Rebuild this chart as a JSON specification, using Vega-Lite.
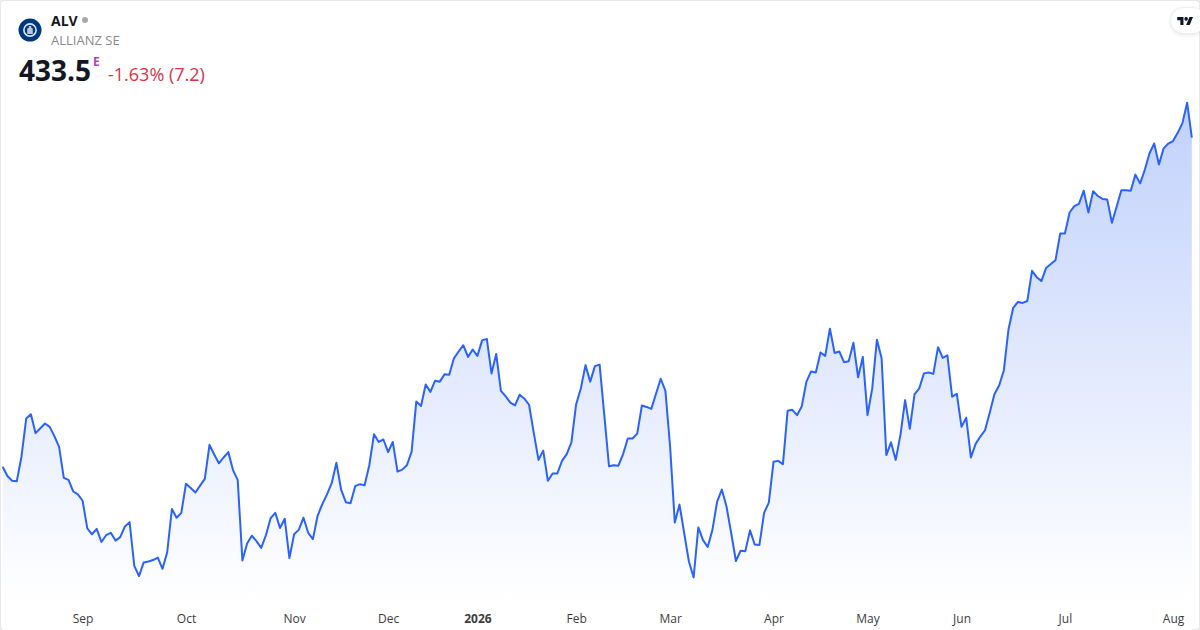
{
  "$schema": "https://vega.github.io/schema/vega-lite/v6.json",
  "width": 1200,
  "height": 630,
  "padding": 0,
  "autosize": "none",
  "background": "#ffffff",
  "view": {"stroke": "#e8e8e8", "strokeWidth": 2, "cornerRadius": 4},
  "config": {"text": {"font": "Open Sans"}, "axis": {"labelFont": "Open Sans"}},
  "datasets": {
    "closes": [
      {"session":0,"close":365.8},{"session":1,"close":363.9},{"session":2,"close":362.9},{"session":3,"close":362.8},{"session":4,"close":367.9},{"session":5,"close":375.7},{"session":6,"close":376.6},{"session":7,"close":372.7},{"session":8,"close":373.7},{"session":9,"close":374.7},
      {"session":10,"close":374.0},{"session":11,"close":372.1},{"session":12,"close":369.9},{"session":13,"close":363.5},{"session":14,"close":363.1},{"session":15,"close":360.7},{"session":16,"close":360.1},{"session":17,"close":358.8},{"session":18,"close":353.1},{"session":19,"close":351.9},
      {"session":20,"close":353.0},{"session":21,"close":350.3},{"session":22,"close":351.7},{"session":23,"close":352.2},{"session":24,"close":350.6},{"session":25,"close":351.3},{"session":26,"close":353.5},{"session":27,"close":354.4},{"session":28,"close":345.4},{"session":29,"close":343.3},
      {"session":30,"close":346.1},{"session":31,"close":346.3},{"session":32,"close":346.6},{"session":33,"close":347.1},{"session":34,"close":344.8},{"session":35,"close":348.2},{"session":36,"close":357.1},{"session":37,"close":355.3},{"session":38,"close":356.3},{"session":39,"close":362.3},
      {"session":40,"close":361.4},{"session":41,"close":360.5},{"session":42,"close":361.9},{"session":43,"close":363.3},{"session":44,"close":370.3},{"session":45,"close":368.3},{"session":46,"close":366.5},{"session":47,"close":367.7},{"session":48,"close":368.8},{"session":49,"close":365.1},
      {"session":50,"close":363.1},{"session":51,"close":346.5},{"session":52,"close":350.0},{"session":53,"close":351.6},{"session":54,"close":350.5},{"session":55,"close":349.1},{"session":56,"close":351.7},{"session":57,"close":355.2},{"session":58,"close":356.3},{"session":59,"close":353.2},
      {"session":60,"close":355.1},{"session":61,"close":347.0},{"session":62,"close":351.9},{"session":63,"close":352.8},{"session":64,"close":355.3},{"session":65,"close":352.2},{"session":66,"close":350.9},{"session":67,"close":355.7},{"session":68,"close":358.1},{"session":69,"close":360.1},
      {"session":70,"close":362.4},{"session":71,"close":366.6},{"session":72,"close":361.1},{"session":73,"close":358.5},{"session":74,"close":358.3},{"session":75,"close":361.8},{"session":76,"close":362.2},{"session":77,"close":362.0},{"session":78,"close":366.1},{"session":79,"close":372.5},
      {"session":80,"close":370.9},{"session":81,"close":371.4},{"session":82,"close":368.8},{"session":83,"close":370.9},{"session":84,"close":364.8},{"session":85,"close":365.2},{"session":86,"close":366.1},{"session":87,"close":368.9},{"session":88,"close":379.2},{"session":89,"close":378.3},
      {"session":90,"close":382.7},{"session":91,"close":381.2},{"session":92,"close":383.5},{"session":93,"close":383.3},{"session":94,"close":384.8},{"session":95,"close":384.7},{"session":96,"close":388.1},{"session":97,"close":389.5},{"session":98,"close":390.8},{"session":99,"close":388.4},
      {"session":100,"close":389.9},{"session":101,"close":388.6},{"session":102,"close":391.8},{"session":103,"close":392.1},{"session":104,"close":385.0},{"session":105,"close":389.0},{"session":106,"close":381.4},{"session":107,"close":380.3},{"session":108,"close":379.0},{"session":109,"close":378.4},
      {"session":110,"close":380.6},{"session":111,"close":379.8},{"session":112,"close":378.5},{"session":113,"close":372.7},{"session":114,"close":367.2},{"session":115,"close":369.1},{"session":116,"close":362.9},{"session":117,"close":364.4},{"session":118,"close":364.4},{"session":119,"close":367.0},
      {"session":120,"close":368.4},{"session":121,"close":370.8},{"session":122,"close":378.6},{"session":123,"close":381.9},{"session":124,"close":386.7},{"session":125,"close":383.3},{"session":126,"close":386.5},{"session":127,"close":386.8},{"session":128,"close":376.4},{"session":129,"close":365.9},
      {"session":130,"close":366.1},{"session":131,"close":366.0},{"session":132,"close":368.4},{"session":133,"close":371.6},{"session":134,"close":371.6},{"session":135,"close":372.6},{"session":136,"close":378.4},{"session":137,"close":378.1},{"session":138,"close":377.7},{"session":139,"close":380.8},
      {"session":140,"close":383.9},{"session":141,"close":381.4},{"session":142,"close":369.9},{"session":143,"close":354.3},{"session":144,"close":358.0},{"session":145,"close":352.1},{"session":146,"close":346.3},{"session":147,"close":343.0},{"session":148,"close":353.3},{"session":149,"close":350.7},
      {"session":150,"close":349.3},{"session":151,"close":352.8},{"session":152,"close":358.6},{"session":153,"close":361.1},{"session":154,"close":357.6},{"session":155,"close":352.1},{"session":156,"close":346.4},{"session":157,"close":348.5},{"session":158,"close":348.4},{"session":159,"close":352.7},
      {"session":160,"close":349.8},{"session":161,"close":349.7},{"session":162,"close":356.3},{"session":163,"close":358.4},{"session":164,"close":366.8},{"session":165,"close":367.0},{"session":166,"close":366.3},{"session":167,"close":377.3},{"session":168,"close":377.5},{"session":169,"close":376.4},
      {"session":170,"close":378.2},{"session":171,"close":383.3},{"session":172,"close":385.4},{"session":173,"close":385.2},{"session":174,"close":389.3},{"session":175,"close":388.6},{"session":176,"close":394.2},{"session":177,"close":389.2},{"session":178,"close":389.5},{"session":179,"close":387.3},
      {"session":180,"close":387.5},{"session":181,"close":391.3},{"session":182,"close":384.2},{"session":183,"close":388.4},{"session":184,"close":376.4},{"session":185,"close":381.9},{"session":186,"close":391.9},{"session":187,"close":388.1},{"session":188,"close":368.2},{"session":189,"close":370.8},
      {"session":190,"close":367.2},{"session":191,"close":372.3},{"session":192,"close":379.5},{"session":193,"close":373.6},{"session":194,"close":380.7},{"session":195,"close":381.9},{"session":196,"close":385.0},{"session":197,"close":385.2},{"session":198,"close":384.9},{"session":199,"close":390.4},
      {"session":200,"close":388.2},{"session":201,"close":388.7},{"session":202,"close":380.2},{"session":203,"close":380.8},{"session":204,"close":374.0},{"session":205,"close":375.9},{"session":206,"close":367.7},{"session":207,"close":370.5},{"session":208,"close":372.0},{"session":209,"close":373.3},
      {"session":210,"close":376.9},{"session":211,"close":380.7},{"session":212,"close":382.5},{"session":213,"close":385.6},{"session":214,"close":394.1},{"session":215,"close":398.5},{"session":216,"close":399.7},{"session":217,"close":399.5},{"session":218,"close":399.9},{"session":219,"close":406.1},
      {"session":220,"close":404.8},{"session":221,"close":404.0},{"session":222,"close":406.7},{"session":223,"close":407.5},{"session":224,"close":408.3},{"session":225,"close":413.8},{"session":226,"close":413.8},{"session":227,"close":418.1},{"session":228,"close":419.4},{"session":229,"close":419.9},
      {"session":230,"close":422.6},{"session":231,"close":418.1},{"session":232,"close":422.5},{"session":233,"close":421.5},{"session":234,"close":420.9},{"session":235,"close":420.8},{"session":236,"close":416.0},{"session":237,"close":419.3},{"session":238,"close":422.7},{"session":239,"close":422.7},
      {"session":240,"close":422.6},{"session":241,"close":425.9},{"session":242,"close":424.1},{"session":243,"close":426.9},{"session":244,"close":430.3},{"session":245,"close":432.3},{"session":246,"close":428.0},{"session":247,"close":431.3},{"session":248,"close":432.3},{"session":249,"close":432.8},
      {"session":250,"close":434.5},{"session":251,"close":436.5},{"session":252,"close":440.7},{"session":253,"close":433.5}
    ]
  },
  "data": {"name": "closes"},
  "layer": [
    {
      "mark": {
        "type": "area",
        "color": {
          "gradient": "linear",
          "x1": 0, "y1": 0, "x2": 0, "y2": 1,
          "stops": [
            {"offset": 0, "color": "#c1d1fc"},
            {"offset": 0.95, "color": "#ffffff"}
          ]
        }
      },
      "encoding": {
        "x": {
          "field": "session",
          "type": "quantitative",
          "scale": {"domain": [-0.574, 254.74], "nice": false, "zero": false},
          "axis": {
            "values": [17, 39, 62, 82, 101, 122, 142, 164, 184, 204, 226, 249],
            "labelExpr": "{17:'Sep',39:'Oct',62:'Nov',82:'Dec',101:'2026',122:'Feb',142:'Mar',164:'Apr',184:'May',204:'Jun',226:'Jul',249:'Aug'}[datum.value]",
            "title": null,
            "domain": false,
            "ticks": false,
            "grid": false,
            "offset": -17,
            "zindex": 1,
            "labelPadding": 0,
            "labelFontSize": 12,
            "labelColor": "#3d3d3d",
            "labelFontWeight": {"condition": {"test": "datum.value === 101", "value": 700}, "value": 400}
          }
        },
        "y": {
          "field": "close",
          "type": "quantitative",
          "scale": {"domain": [332.2, 461.83], "nice": false, "zero": false},
          "axis": null
        },
        "y2": {"datum": 332.2}
      }
    },
    {
      "mark": {"type": "line", "color": "#2962ff", "strokeWidth": 2, "strokeJoin": "round"},
      "encoding": {
        "x": {"field": "session", "type": "quantitative"},
        "y": {"field": "close", "type": "quantitative"}
      }
    },
    {
      "data": {"values": [{"label": "ALV"}]},
      "mark": {"type": "text", "align": "left", "baseline": "alphabetic", "fontSize": 14, "fontWeight": 700, "color": "#131722"},
      "encoding": {
        "x": {"datum": 10.28, "type": "quantitative"},
        "y": {"datum": 456.5, "type": "quantitative"},
        "text": {"field": "label"}
      }
    },
    {
      "data": {"values": [{"label": "ALLIANZ SE"}]},
      "mark": {"type": "text", "align": "left", "baseline": "alphabetic", "fontSize": 13, "color": "#8a8a8a"},
      "encoding": {
        "x": {"datum": 10.28, "type": "quantitative"},
        "y": {"datum": 452.57, "type": "quantitative"},
        "text": {"field": "label"}
      }
    },
    {
      "data": {"values": [{"label": "433.5"}]},
      "mark": {"type": "text", "align": "left", "baseline": "alphabetic", "fontSize": 28, "fontWeight": 700, "color": "#131722"},
      "encoding": {
        "x": {"datum": 3.47, "type": "quantitative"},
        "y": {"datum": 445.16, "type": "quantitative"},
        "text": {"field": "label"}
      }
    },
    {
      "data": {"values": [{"label": "E"}]},
      "mark": {"type": "text", "align": "left", "baseline": "alphabetic", "fontSize": 12, "fontWeight": 700, "color": "#ab47bc"},
      "encoding": {
        "x": {"datum": 19.21, "type": "quantitative"},
        "y": {"datum": 448.25, "type": "quantitative"},
        "text": {"field": "label"}
      }
    },
    {
      "data": {"values": [{"label": "-1.63% (7.2)"}]},
      "mark": {"type": "text", "align": "left", "baseline": "alphabetic", "fontSize": 18, "color": "#dc3045"},
      "encoding": {
        "x": {"datum": 22.4, "type": "quantitative"},
        "y": {"datum": 445.16, "type": "quantitative"},
        "text": {"field": "label"}
      }
    },
    {
      "data": {"values": [{"label": "logo"}]},
      "mark": {"type": "point", "shape": "circle", "filled": true, "size": 530, "color": "#003781", "opacity": 1},
      "encoding": {
        "x": {"datum": 5.81, "type": "quantitative"},
        "y": {"datum": 455.65, "type": "quantitative"}
      }
    },
    {
      "data": {"values": [{"label": "logo ring"}]},
      "mark": {"type": "point", "shape": "circle", "filled": false, "size": 150, "color": "#dfe6f2", "strokeWidth": 1.6, "opacity": 1},
      "encoding": {
        "x": {"datum": 5.81, "type": "quantitative"},
        "y": {"datum": 455.65, "type": "quantitative"}
      }
    },
    {
      "data": {"values": [{"label": "logo mark"}]},
      "mark": {"type": "point", "filled": true, "size": 64, "color": "#b9c6dc", "opacity": 1, "shape": "M -0.7 1 V -0.4 L -0.3 -0.6 V -1 H 0.3 V -0.6 L 0.7 -0.4 V 1 Z"},
      "encoding": {
        "x": {"datum": 5.81, "type": "quantitative"},
        "y": {"datum": 455.65, "type": "quantitative"}
      }
    },
    {
      "data": {"values": [{"label": "status"}]},
      "mark": {"type": "point", "shape": "circle", "filled": true, "size": 36, "color": "#a8a8a8", "opacity": 1},
      "encoding": {
        "x": {"datum": 17.51, "type": "quantitative"},
        "y": {"datum": 457.71, "type": "quantitative"}
      }
    },
    {
      "data": {"values": [{"label": "badge shadow outer"}]},
      "mark": {"type": "rect", "color": "#000000", "opacity": 0.025, "cornerRadius": 15},
      "encoding": {
        "x": {"datum": 248.0, "type": "quantitative"},
        "x2": {"datum": 256},
        "y": {"datum": 460.6, "type": "quantitative"},
        "y2": {"datum": 454.1}
      }
    },
    {
      "data": {"values": [{"label": "badge shadow"}]},
      "mark": {"type": "rect", "color": "#000000", "opacity": 0.04, "cornerRadius": 14},
      "encoding": {
        "x": {"datum": 248.3, "type": "quantitative"},
        "x2": {"datum": 256},
        "y": {"datum": 460.4, "type": "quantitative"},
        "y2": {"datum": 454.6}
      }
    },
    {
      "data": {"values": [{"label": "badge"}]},
      "mark": {"type": "rect", "color": "#ffffff", "cornerRadius": 13},
      "encoding": {
        "x": {"datum": 248.58, "type": "quantitative"},
        "x2": {"datum": 256},
        "y": {"datum": 460.2, "type": "quantitative"},
        "y2": {"datum": 455.04}
      }
    },
    {
      "data": {"values": [{"label": "tv"}]},
      "mark": {
        "type": "point",
        "filled": true,
        "opacity": 1,
        "color": "#131722",
        "size": 256,
        "shape": "M -0.222 0.5 H -0.611 V -0.111 H -1 V -0.5 H -0.222 Z M 0.556 0.5 H 0.111 L 0.528 -0.5 H 0.972 Z M -0.11 -0.278 A 0.222 0.222 0 1 0 0.332 -0.278 A 0.222 0.222 0 1 0 -0.11 -0.278 Z"
      },
      "encoding": {
        "x": {"datum": 251.6, "type": "quantitative"},
        "y": {"datum": 457.5, "type": "quantitative"}
      }
    }
  ]
}
